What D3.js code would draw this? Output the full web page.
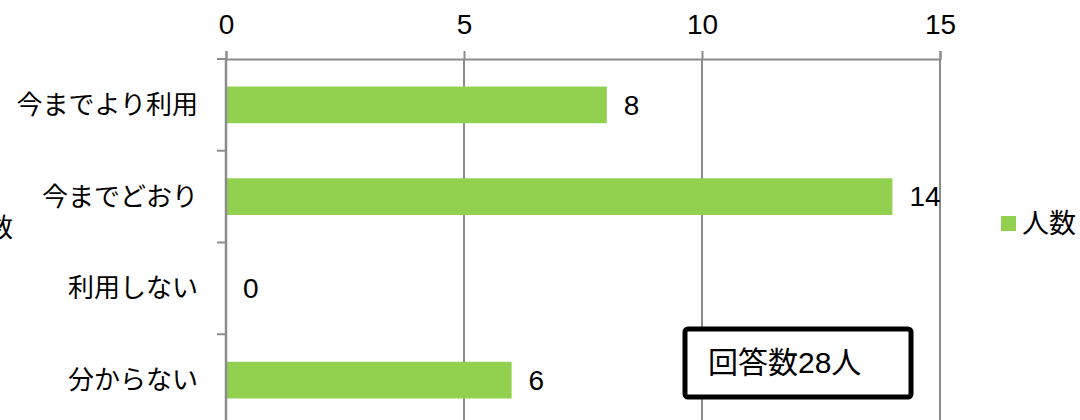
<!DOCTYPE html>
<html>
<head>
<meta charset="utf-8">
<script src="https://cdn.jsdelivr.net/npm/d3@7"></script>
<style>
  body { margin: 0; background: #fff; }
  text { font-family: "Liberation Sans", "Noto Sans CJK JP", sans-serif; fill: #000; }
</style>
</head>
<body>
<div class="infographic"></div>
<script>
var categories = ["今までより利用", "今までどおり", "利用しない", "分からない"];
var values = [8, 14, 0, 6];
var xTicks = [0, 5, 10, 15];
var seriesName = "人数";
var note = "回答数28人";

var width = 1080, height = 420;
var margin = {top: 59, left: 226, right: 140};
var plotW = 940 - margin.left;
var plotH = 367;

var svg = d3.select(".infographic")
            .append("svg")
            .attr("width", width)
            .attr("height", height);

var x = d3.scaleLinear().domain([0, 15]).range([margin.left, margin.left + plotW]);
var y = d3.scaleBand().domain(categories).range([margin.top, margin.top + plotH]).paddingInner(0.6).paddingOuter(0.3);
var yOuter = d3.scaleBand().domain(categories).range([margin.top, margin.top + plotH]);

// vertical gridlines
svg.append("g")
   .selectAll("line")
   .data(xTicks.slice(1))
   .enter().append("line")
   .attr("x1", d => x(d)).attr("x2", d => x(d))
   .attr("y1", margin.top).attr("y2", margin.top + plotH)
   .style("stroke", "#8c8c8c")
   .style("stroke-width", 2);

// top axis
var xAxis = svg.append("g")
   .attr("transform", "translate(0," + margin.top + ")")
   .call(d3.axisTop(x).tickValues(xTicks).tickSize(8).tickPadding(17));
xAxis.select(".domain").style("stroke", "#8c8c8c").style("stroke-width", 2);
xAxis.selectAll(".tick line").style("stroke", "#8c8c8c").style("stroke-width", 2);
xAxis.selectAll(".tick text").style("font-size", "28px");

// bars
svg.append("g")
   .selectAll("rect")
   .data(values)
   .enter().append("rect")
   .attr("x", x(0))
   .attr("y", (d, i) => y(categories[i]))
   .attr("width", d => x(d) - x(0))
   .attr("height", y.bandwidth())
   .style("fill", "#92d050");

// value labels
svg.append("g")
   .selectAll("text")
   .data(values)
   .enter().append("text")
   .attr("x", d => x(d) + 17)
   .attr("y", (d, i) => y(categories[i]) + y.bandwidth() / 2)
   .attr("dy", "0.35em")
   .style("font-size", "28px")
   .text(d => d);

// left axis
var yAxisG = svg.append("g");
yAxisG.append("line")
   .attr("x1", x(0)).attr("x2", x(0))
   .attr("y1", margin.top).attr("y2", margin.top + plotH)
   .style("stroke", "#8c8c8c").style("stroke-width", 2.5);
yAxisG.selectAll(".ytick")
   .data(categories)
   .enter().append("line")
   .attr("x1", x(0) - 9).attr("x2", x(0))
   .attr("y1", d => yOuter(d)).attr("y2", d => yOuter(d))
   .style("stroke", "#8c8c8c").style("stroke-width", 2);
yAxisG.selectAll("text")
   .data(categories)
   .enter().append("text")
   .attr("x", 198)
   .attr("y", d => y(d) + y.bandwidth() / 2)
   .attr("dy", "0.35em")
   .attr("text-anchor", "end")
   .style("font-size", "26px")
   .text(d => d);

// axis title (cut off at left edge, as in the original)
svg.append("text")
   .attr("x", 13)
   .attr("y", 228)
   .attr("dy", "0.35em")
   .attr("text-anchor", "end")
   .style("font-size", "26px")
   .text(seriesName);

// legend
var legend = svg.append("g").attr("transform", "translate(1001,216)");
legend.append("rect").attr("width", 15).attr("height", 15).style("fill", "#92d050");
legend.append("text")
   .attr("x", 21).attr("y", 7.5).attr("dy", "0.35em")
   .style("font-size", "27px")
   .text(seriesName);

// note box
var box = svg.append("g").attr("transform", "translate(685,329)");
box.append("rect")
   .attr("width", 226).attr("height", 68)
   .attr("rx", 3)
   .style("fill", "#fff")
   .style("stroke", "#000")
   .style("stroke-width", 5);
box.append("text")
   .attr("x", 23).attr("y", 33).attr("dy", "0.35em")
   .style("font-size", "30px")
   .text(note);
</script>
</body>
</html>
